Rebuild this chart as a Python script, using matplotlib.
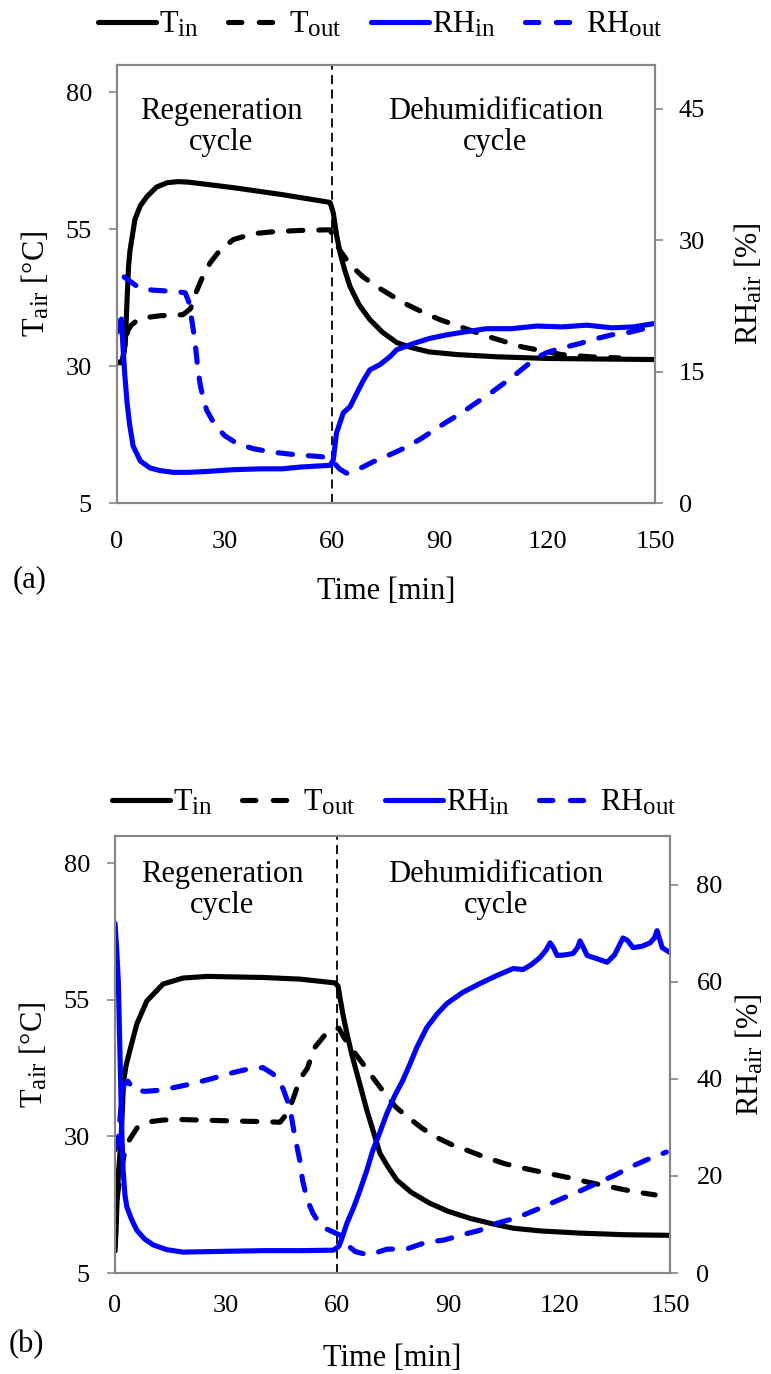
import matplotlib
matplotlib.use('Agg')
import matplotlib.pyplot as plt
from matplotlib.lines import Line2D

try:
    # larger subscripts, closer to the original figure
    import matplotlib._mathtext as _mt
    _mt.SHRINK_FACTOR = 0.82
except Exception:
    pass

plt.rcParams['font.family'] = ['Liberation Serif', 'DejaVu Serif']
plt.rcParams['mathtext.fontset'] = 'custom'
plt.rcParams['mathtext.rm'] = 'Liberation Serif'
plt.rcParams['mathtext.it'] = 'Liberation Serif:italic'

# ---------------- panel (a) ----------------
t_a_tin = [0, 1.5, 2.3, 2.8, 3.2, 3.6, 5, 6.5, 8.4, 11, 14, 17, 20, 32.4, 46.3, 59.4,
           60.3, 61.2, 62.2, 63.5, 65, 67.5, 70.5, 74, 78, 82, 87, 95, 106, 120, 135, 150]
tin_a = [30.5, 31, 34, 42, 48, 51, 56.8, 59.3, 61, 62.7, 63.5, 63.7, 63.6, 62.6, 61.3, 59.9,
         58, 54, 50.7, 47.5, 44.5, 41.2, 38.5, 36.2, 34.3, 33.4, 32.6, 32.1, 31.7, 31.4, 31.3, 31.2]

t_a_tout = [1.5, 2, 3, 4, 5.5, 7.3, 12, 18.4, 20.5, 22, 24, 26, 28.5, 32.4, 38, 44.6, 52, 59.4,
            60.5, 62, 65, 68.6, 73, 77, 81, 85.4, 90, 96.5, 104, 113, 124, 132, 140]
tout_a = [30.5, 33, 36.5, 37.5, 38.3, 38.8, 39.2, 39.4, 40.5, 43.4, 46.5, 48.9, 51, 53.1, 54.2, 54.6,
          54.8, 54.9, 53.5, 51.3, 48.5, 46.3, 44.3, 42.7, 41.2, 39.8, 38.5, 37, 35.3, 33.5, 32.1, 31.7, 31.5]

t_a_rhin = [0, 0.5, 1.2, 1.8, 2.2, 2.8, 3.5, 4.5, 6.5, 9.2, 12, 15.7, 20, 25, 32.4, 40, 46, 51, 55, 59.4,
            60.3, 61.2, 63.1, 65, 66.8, 68.7, 70.5, 73.3, 76.1, 78, 82.6, 87.3, 92, 96.5, 103, 110, 117,
            124, 131, 138, 144, 150]
rhin_a = [19.5, 20.5, 21.0, 17, 14.5, 11.5, 9, 6.5, 4.8, 4.0, 3.7, 3.5, 3.5, 3.6, 3.8, 3.9, 3.9, 4.1, 4.2, 4.3,
          4.9, 8.0, 10.3, 11.0, 12.5, 14.0, 15.2, 15.8, 16.7, 17.5, 18.2, 18.8, 19.2, 19.5, 19.9, 19.9, 20.2,
          20.1, 20.3, 20.0, 20.1, 20.5]

t_a_rhout = [2, 4, 6.4, 10, 14, 17, 19, 20, 21, 21.7, 22.5, 23.2, 24, 25, 26.5, 27.8, 30, 33.4, 38, 43.5,
             50, 56.6, 59, 60.5, 62, 64, 66, 68, 71.4, 76, 80.8, 85, 89, 92.5, 96.5, 100, 104, 108, 111.5,
             114.5, 117, 120, 124, 129, 134, 138, 143, 147, 150]
rhout_a = [25.8, 25.2, 24.5, 24.3, 24.2, 24.1, 24, 23, 20.5, 18.6, 15.5, 13.5, 12, 10.6, 9.5, 8.7, 7.7, 6.8,
           6.2, 5.8, 5.5, 5.3, 5.2, 4.6, 3.9, 3.4, 3.6, 4.0, 4.7, 5.5, 6.4, 7.4, 8.5, 9.4, 10.4, 11.4, 12.5,
           13.7, 14.8, 15.8, 16.6, 17.2, 17.7, 18.2, 18.8, 19.2, 19.5, 19.9, 20.1]

# ---------------- panel (b) ----------------
t_b_tin = [0, 0.3, 0.6, 1.0, 1.6, 2.0, 2.3, 3, 4, 5.9, 8.6, 13, 18.4, 25, 32, 40, 50, 59.5,
           60.3, 60.8, 61.7, 62.7, 64, 65.4, 66.8, 68.1, 70, 71.6, 74, 76.2, 80, 85, 90, 96, 102,
           107.6, 115, 125.7, 138, 150]
tin_b = [9, 13, 19, 24, 29, 35, 40, 43, 45.7, 50.6, 54.8, 57.9, 59, 59.3, 59.2, 59.1, 58.8, 58.1,
         57.5, 55.4, 52, 48.8, 45, 41.5, 38, 34.7, 30.5, 26.9, 24.2, 22, 19.8, 17.8, 16.3, 15, 14,
         13.2, 12.7, 12.3, 12.0, 11.9]

t_b_tout = [0, 0.5, 1.2, 2, 2.7, 4, 6, 9.5, 13, 17.6, 23, 28.4, 34, 40.5, 44.6, 46.5, 48, 50, 52, 54, 57,
            59, 60.5, 62, 64, 67, 70, 73, 76, 79.2, 83, 87, 91, 95.4, 100, 105.4, 109, 113, 118, 123.8,
            128, 133, 138, 143, 146]
tout_b = [13, 18.3, 22, 25, 27.4, 29.5, 31.6, 32.7, 33, 33.1, 33, 32.9, 32.8, 32.7, 32.6, 34.2, 36.6, 40.5,
          42.5, 46.3, 48.8, 49.5, 49.8, 48, 46, 43.3, 40.5, 37.8, 35.3, 33.5, 31.5, 29.8, 28.5, 27.4, 26.2,
          25, 24.4, 23.8, 23.1, 22.3, 21.6, 20.9, 20.2, 19.6, 19.3]

t_b_rhin = [0, 0.5, 0.9, 1.2, 1.5, 1.8, 2.2, 2.7, 3.2, 4.5, 5.9, 8, 10.3, 14, 18.4, 25, 32, 40, 50, 59,
            60.5, 61.5, 62.7, 64.5, 66.2, 68, 69.7, 71.6, 73.5, 75.6, 77.8, 79.7, 81.6, 84.3, 87, 89.7, 94,
            98.6, 103, 107.6, 110.3, 112.5, 114.9, 116.5, 117.6, 118.5, 119.5, 121.5, 123.8, 125, 125.7,
            126.6, 127.6, 130, 133, 135, 137.3, 138.5, 140, 142.5, 144.6, 145.8, 146.5, 147.9, 150]
rhin_b = [72, 66, 60, 50, 40, 30, 21, 16, 13.6, 11, 8.8, 7.0, 5.8, 4.8, 4.3, 4.4, 4.5, 4.6, 4.6, 4.7,
          5.5, 7.5, 10.3, 13.5, 17, 21, 25.3, 29, 32.9, 36.5, 39.7, 43, 46.5, 50.6, 53.3, 55.5, 57.8,
          59.6, 61.2, 62.7, 62.5, 63.5, 65, 66.5, 68, 67, 65.4, 65.5, 65.8, 67, 68.4,
          67, 65.4, 64.8, 64, 65.5, 69, 68.5, 67, 67.3, 68, 69, 70.5, 67, 66]

t_b_rhout = [0, 0.8, 1.5, 2.2, 3.5, 5, 8, 11.4, 16, 21, 26, 32, 36, 40, 42.7, 44, 45.4, 47.3, 48.5, 50,
             50.7, 52, 53.5, 55, 56.8, 60.8, 63, 65, 67, 69, 73.5, 79, 84, 89, 94, 98.6, 103, 108.7, 115,
             121, 126, 130.3, 135, 139.2, 144, 149]
rhout_b = [25.3, 27, 33, 38.5, 39.5, 37.8, 37.4, 37.6, 38.2, 39, 40, 41.3, 42, 42.3, 41, 39.8, 38, 34,
           28.5, 23, 19, 15, 12.3, 10.5, 9.2, 7.8, 5.6, 4.4, 4.0, 3.8, 4.9, 5.0, 6.3, 6.8, 7.9, 8.8, 10.2,
           11.4, 13.4, 15.4, 17, 18.5, 20.1, 21.8, 23.4, 24.9]

GRAY = '#868686'
LW = 3.7
DASH = (2.8, 3.1)


def plot_panel(fig, rect, tt, rh, rh_max, rh_ticks, opts):
    ax = fig.add_axes(rect)
    ax2 = ax.twinx()

    (t_tin, tin), (t_tout, tout) = tt
    (t_rhin, rhin), (t_rhout, rhout) = rh
    ax.plot(t_tin, tin, color='black', lw=LW, solid_capstyle='round', solid_joinstyle='round')
    ax.plot(t_tout, tout, color='black', lw=LW, dashes=DASH, dash_capstyle='round')
    ax2.plot(t_rhin, rhin, color='blue', lw=LW, solid_capstyle='round', solid_joinstyle='round')
    ax2.plot(t_rhout, rhout, color='blue', lw=LW, dashes=DASH, dash_capstyle='round')
    ax.axvline(60, color='black', lw=1.3, linestyle=(0, (5, 3)), zorder=1)

    ax.set_xlim(0, 150)
    ax.set_ylim(5, 85)
    ax2.set_ylim(0, rh_max)
    ax.set_xticks([0, 30, 60, 90, 120, 150])
    ax.set_yticks([5, 30, 55, 80])
    ax2.set_yticks(rh_ticks)

    for a in (ax, ax2):
        for s in a.spines.values():
            s.set_color(GRAY)
            s.set_linewidth(1.5)
    ax.tick_params(axis='y', direction='out', length=6, width=1.2, color=GRAY,
                   labelsize=19, pad=12)
    ax2.tick_params(axis='y', direction='out', length=6, width=1.2, color=GRAY,
                    labelsize=19, pad=opts['rpad'])
    ax.tick_params(axis='x', length=0, labelsize=19, pad=opts['xpad'])

    ax.set_xlabel('Time [min]', fontsize=22)
    ax.xaxis.set_label_coords(0.5, opts['xlab_y'])
    ax.set_ylabel(r'T$_{\rm air}$ [°C]', fontsize=22, labelpad=10)
    ax2.set_ylabel(r'RH$_{\rm air}$ [%]', fontsize=22, labelpad=opts['rlabpad'])

    ax.text(29, opts['text_y'], 'Regeneration\ncycle', ha='center', va='top', fontsize=22,
            linespacing=1.1)
    ax.text(opts['dehum_x'], opts['text_y'], 'Dehumidification\ncycle', ha='center', va='top',
            fontsize=22, linespacing=1.1)

    fig.text(opts['letter_x'], opts['letter_y'], opts['letter'], fontsize=22,
             ha='center', va='center')

    handles = [
        Line2D([], [], color='black', lw=LW, solid_capstyle='round'),
        Line2D([], [], color='black', lw=LW, dashes=(2.6, 3.4), dash_capstyle='round'),
        Line2D([], [], color='blue', lw=LW, solid_capstyle='round'),
        Line2D([], [], color='blue', lw=LW, dashes=(2.6, 3.4), dash_capstyle='round'),
    ]
    labels = [r'T$_{\rm in}$', r'T$_{\rm out}$', r'RH$_{\rm in}$', r'RH$_{\rm out}$']
    fig.legend(handles, labels, loc='center', bbox_to_anchor=opts['leg_xy'], ncol=4,
               frameon=False, fontsize=22, handlelength=1.9, handletextpad=0.1,
               columnspacing=0.95, borderaxespad=0)
    return ax, ax2


if __name__ == '__main__':
    fig = plt.figure(figsize=(7.71, 13.74), dpi=100)
    W, H = 771.0, 1374.0

    plot_panel(fig, [117 / W, 1 - 503 / H, 538 / W, 438 / H],
               ((t_a_tin, tin_a), (t_a_tout, tout_a)),
               ((t_a_rhin, rhin_a), (t_a_rhout, rhout_a)),
               50, [0, 15, 30, 45],
               dict(letter='(a)', letter_x=30 / W, letter_y=1 - 580 / H,
                    xpad=20, xlab_y=-0.17, rpad=11, rlabpad=20,
                    leg_xy=(380 / W, 1 - 25 / H), text_y=79.2, dehum_x=105.5))

    plot_panel(fig, [115 / W, 1 - 1273 / H, 555 / W, 437 / H],
               ((t_b_tin, tin_b), (t_b_tout, tout_b)),
               ((t_b_rhin, rhin_b), (t_b_rhout, rhout_b)),
               90, [0, 20, 40, 60, 80],
               dict(letter='(b)', letter_x=26 / W, letter_y=1 - 1345 / H,
                    xpad=16, xlab_y=-0.163, rpad=13, rlabpad=8,
                    leg_xy=(394 / W, 1 - 803 / H), text_y=80.6, dehum_x=103))

    fig.savefig('out.png', dpi=100)
